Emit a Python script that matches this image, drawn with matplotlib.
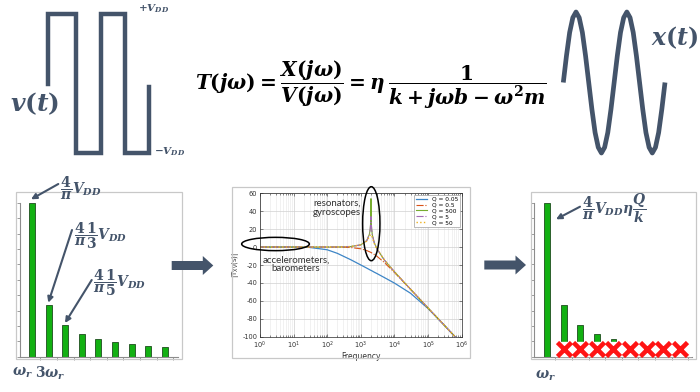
import numpy as np
import matplotlib.pyplot as plt
from matplotlib.patches import Rectangle, Ellipse, FancyArrow

# bold italic serif math, close to Cambria Math in the original slide
plt.rcParams['mathtext.fontset'] = 'custom'
plt.rcParams['mathtext.rm'] = 'DejaVu Serif:bold'
plt.rcParams['mathtext.it'] = 'DejaVu Serif:italic:bold'
plt.rcParams['mathtext.bf'] = 'DejaVu Serif:bold'
plt.rcParams['mathtext.sf'] = 'DejaVu Sans'
plt.rcParams['axes.unicode_minus'] = False

W, H = 700, 392
SLATE = '#44546A'

# ---- data ----
# square wave v(t): time in half-periods, level in units of V_DD
sq_t = [0, 0, 1.11, 1.11, 2.09, 2.09, 3.06, 3.06, 4, 4]
sq_v = [0, 1, 1, -1, -1, 1, 1, -1, -1, -0.05]

# sine x(t): one cycle sampled every 1/16 period, shown twice
sine_cycle = [0, 0.38, 0.71, 0.92, 1, 0.92, 0.71, 0.38,
              0, -0.38, -0.71, -0.92, -1, -0.92, -0.71, -0.38]
n_cycles = 2

# harmonic amplitudes (relative to the fundamental)
harm_pos = [1, 2, 3, 4, 5, 6, 7, 8, 9]
harm_amp = [1.0, 0.337, 0.205, 0.149, 0.115, 0.093, 0.082, 0.069, 0.063]
killed_pos = [2, 3, 4, 5, 6, 7, 8, 9]
cut_level = 0.097

# bode magnitude curves (dB)
freq = [1, 10, 30, 100, 200, 500, 1000, 1500, 1800, 1900, 1950, 2000,
        2050, 2100, 2200, 2500, 3000, 5000, 1e4, 3e4, 1e5, 3e5, 6.5e5]
gain_q005 = [0, 0, -0.4, -3.0, -7.0, -14.1, -20.0, -23.5, -25.1, -25.6, -25.8, -26.0,
             -26.2, -26.4, -26.8, -28.0, -29.5, -34.0, -40.2, -51.5, -68.6, -87.1, -100.5]
gain_q05 = [0, 0, 0, 0, -0.1, -0.5, -1.9, -3.9, -5.2, -5.6, -5.8, -6.0,
            -6.2, -6.5, -6.9, -8.2, -10.2, -17.2, -28.3, -47.1, -68.0, -87.0, -100.5]
gain_q500 = [0, 0, 0, 0, 0.1, 0.6, 2.5, 7.2, 14.4, 20.2, 26.1, 54.0,
             25.9, 19.8, 13.6, 5.0, -1.9, -14.4, -27.6, -47.0, -68.0, -87.0, -100.5]
gain_q5 = [0, 0, 0, 0, 0.1, 0.6, 2.5, 7.2, 14.4, 20.1, 25.5, 34.0,
           25.3, 19.6, 13.5, 5.0, -1.9, -14.4, -27.6, -47.0, -68.0, -87.0, -100.5]
gain_q50 = [0, 0, 0, 0, 0.1, 0.6, 2.4, 6.7, 11.6, 13.4, 13.9, 14.0,
            13.5, 12.6, 10.3, 4.2, -2.2, -14.4, -27.6, -47.0, -68.0, -87.0, -100.5]

fig = plt.figure(figsize=(7, 3.92), dpi=100)


def px_axes(x0, y0, x1, y1, **kw):
    # axes placed by pixel box (y measured from the top)
    return fig.add_axes([x0 / W, 1 - y1 / H, (x1 - x0) / W, (y1 - y0) / H], **kw)


# ---- square wave ----
sq = px_axes(47.8, 14, 148.7, 153)
sq.plot(sq_t, sq_v, color=SLATE, lw=3.2, solid_joinstyle='miter', clip_on=False)
sq.set_xlim(0, 4)
sq.set_ylim(-1, 1)
sq.axis('off')

# ---- sine wave ----
sn = px_axes(563.3, 12, 665, 153)
wave = sine_cycle * n_cycles + [0]
sn.plot(np.linspace(0, n_cycles, len(wave)), wave, color=SLATE, lw=3.4,
        solid_capstyle='butt', clip_on=False)
sn.set_xlim(0, n_cycles)
sn.set_ylim(-1, 1)
sn.axis('off')


# ---- harmonic bar charts ----
def bar_axes(ax, xlim):
    ax.bar(harm_pos, harm_amp, width=0.36, color='#12B012', edgecolor='#1D4D1D', lw=0.6)
    ax.set_xlim(*xlim)
    ax.set_ylim(0, 1)
    for s in ['top', 'right']:
        ax.spines[s].set_visible(False)
    for s in ['left', 'bottom']:
        ax.spines[s].set_color('#8C8C8C')
        ax.spines[s].set_linewidth(0.8)
    ax.set_yticks(np.arange(0, 1.01, 0.1))
    ax.set_xticks(np.arange(1.5, 9.6, 1))
    ax.tick_params(length=2, width=0.6, color='#8C8C8C', direction='out',
                   labelleft=False, labelbottom=False)


lax = px_axes(20, 202.7, 178.3, 356.7)
bar_axes(lax, (0.28, 9.8))

rax = px_axes(534.3, 202.7, 691.7, 356.7)
bar_axes(rax, (0.24, 9.7))
rax.fill_between([1.5, 9.65], 0.006, cut_level, color='white', zorder=3)
rax.plot(killed_pos, [cut_level / 2] * len(killed_pos), 'x', ms=9.5, mew=3.3,
         color='#FF1414', zorder=4, clip_on=False)

# ---- bode plot ----
bax = px_axes(260, 193.3, 461.7, 336.7)
bax.semilogx(freq, gain_q005, color='#3D85C6', lw=0.9, label='Q = 0.05')
bax.semilogx(freq, gain_q05, color='#D95319', lw=0.8, ls='-.', label='Q = 0.5')
bax.semilogx(freq, gain_q500, color='#77AC30', lw=0.8, label='Q = 500')
bax.semilogx(freq, gain_q5, color='#A36BB5', lw=0.8, ls='-.', label='Q = 5')
bax.semilogx(freq, gain_q50, color='#EDB120', lw=1.0, ls=':', label='Q = 50')
bax.set_xlim(1, 1e6)
bax.set_ylim(-100, 60)
bax.set_xticks([1, 10, 100, 1e3, 1e4, 1e5, 1e6])
bax.set_yticks(np.arange(-100, 61, 20))
bax.grid(True, which='major', color='#D0D0D0', lw=0.5)
bax.grid(True, which='minor', axis='x', color='#E6E6E6', lw=0.4)
bax.tick_params(which='both', direction='in', top=True, right=True, labelsize=4.8,
                colors='#333333', length=2, width=0.4, pad=2)
bax.tick_params(which='minor', length=1.2)
for s in bax.spines.values():
    s.set_color('#262626')
    s.set_linewidth(0.5)
bax.set_xlabel('Frequency', fontsize=5.5, color='#333333', labelpad=1)
bax.set_ylabel(r'|T$_{\mathregular{XV}}$(s)|', fontsize=5, color='#333333', labelpad=1)
leg = bax.legend(loc='upper right', fontsize=4.2, handlelength=2.0, labelspacing=0.15,
                 borderaxespad=0.25, borderpad=0.3, fancybox=False, framealpha=1)
leg.get_frame().set_edgecolor('#A0A0A0')
leg.get_frame().set_linewidth(0.5)

# ---- overlay for frames, arrows and text ----
ov = fig.add_axes([0, 0, 1, 1], zorder=10)
ov.set_xlim(0, W)
ov.set_ylim(H, 0)
ov.axis('off')

for x0, y0, x1, y1 in [(15.7, 191.7, 181.7, 359), (231.7, 186.7, 470, 358.3),
                       (530.7, 191.7, 696, 359)]:
    ov.add_patch(Rectangle((x0, y0), x1 - x0, y1 - y0, fill=False, ec='#C8C8C8', lw=0.9))

ov.add_patch(FancyArrow(171.7, 265.5, 41.6, 0, width=9, head_width=19, head_length=10.5,
                        length_includes_head=True, color=SLATE, lw=0))
ov.add_patch(FancyArrow(484.3, 265, 41.7, 0, width=9, head_width=19, head_length=10.5,
                        length_includes_head=True, color=SLATE, lw=0))

ov.text(370.5, 85, r'$T(j\omega) = \dfrac{X(j\omega)}{V(j\omega)} = \eta\,\dfrac{1}{k + j\omega b - \omega^2 m}$',
        ha='center', va='center', fontsize=14.5, color='black')
ov.text(34.5, 104, r'$v(t)$', ha='center', va='center', fontsize=18, color=SLATE)
ov.text(675, 38, r'$x(t)$', ha='center', va='center', fontsize=17, color=SLATE)
ov.text(138, 9, r'$+V_{DD}$', ha='left', va='center', fontsize=7.5, color=SLATE)
ov.text(154, 152, r'$-V_{DD}$', ha='left', va='center', fontsize=7.5, color=SLATE)

arrow_kw = dict(arrowstyle='-|>', color=SLATE, lw=1.5, shrinkA=0, shrinkB=0,
                mutation_scale=8)
for tail, tip in [((58.3, 184), (31, 199.3)), ((72, 230), (48.3, 302.7)),
                  ((91.7, 280), (65, 323)), ((580, 206.7), (556, 219.3))]:
    ov.annotate('', xy=tip, xytext=tail, arrowprops=arrow_kw)

ov.text(60, 188, r'$\dfrac{4}{\pi}V_{DD}$', ha='left', va='center', fontsize=10, color=SLATE)
ov.text(74, 236, r'$\dfrac{4}{\pi}\dfrac{1}{3}V_{DD}$', ha='left', va='center', fontsize=10, color=SLATE)
ov.text(93, 283, r'$\dfrac{4}{\pi}\dfrac{1}{5}V_{DD}$', ha='left', va='center', fontsize=10, color=SLATE)
ov.text(582, 208, r'$\dfrac{4}{\pi}V_{DD}\eta\dfrac{Q}{k}$', ha='left', va='center', fontsize=10, color=SLATE)

ov.text(22, 373, r'$\omega_r$', ha='center', va='center', fontsize=10, color=SLATE)
ov.text(50.5, 373, r'$3\omega_r$', ha='center', va='center', fontsize=10, color=SLATE)
ov.text(545, 376, r'$\omega_r$', ha='center', va='center', fontsize=10, color=SLATE)

ov.text(336.7, 208, 'resonators,\ngyroscopes', ha='center', va='center', fontsize=7,
        family='Lato', color='#333333', linespacing=1.0)
ov.text(296, 264.3, 'accelerometers,\nbarometers', ha='center', va='center', fontsize=7,
        family='Lato', color='#333333', linespacing=1.0)
ov.add_patch(Ellipse((371.3, 223.7), 17.3, 74, fill=False, ec='black', lw=1.1))
ov.add_patch(Ellipse((275.5, 244), 67.7, 13.3, fill=False, ec='black', lw=1.1))

fig.savefig('out.png', dpi=100)
